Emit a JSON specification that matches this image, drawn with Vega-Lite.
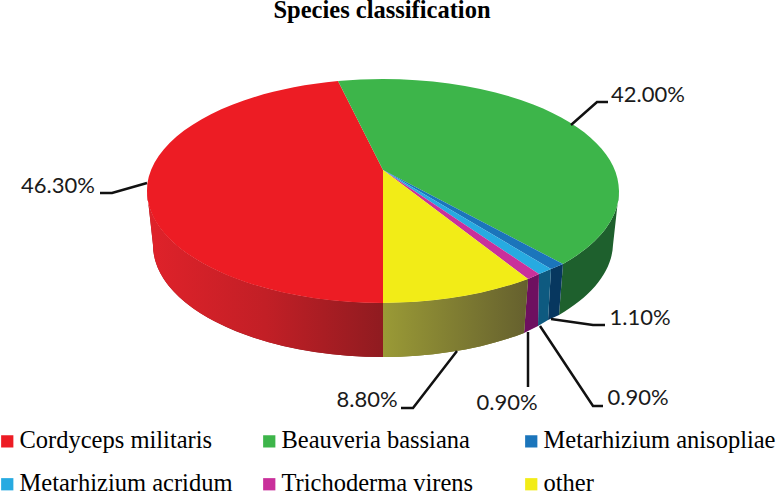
{
"$schema":"https://vega.github.io/schema/vega-lite/v6.json",
"width":776,"height":495,"padding":0,"autosize":"none","background":"white",
"title":{"text":"Species classification","font":"Liberation Serif","fontSize":24.5,"fontWeight":"bold","color":"#000","anchor":"middle","dx":-6,"offset":-23},
"data":{"values":[
{"species":"Cordyceps militaris","share":0.463,"order":1},
{"species":"Beauveria bassiana","share":0.42,"order":2},
{"species":"Metarhizium anisopliae","share":0.011,"order":3},
{"species":"Metarhizium acridum","share":0.009,"order":4},
{"species":"Trichoderma virens","share":0.009,"order":5},
{"species":"other","share":0.088,"order":6}]},
"config":{"view":{"stroke":null}},
"layer":[
{"mark":{"type":"point","filled":true,"opacity":1,"size":4,"strokeWidth":0},
"encoding":{
"shape":{"field":"species","type":"nominal","legend":null,"scale":{"domain":["Cordyceps militaris","Beauveria bassiana","Metarhizium anisopliae","Metarhizium acridum","Trichoderma virens","other"],"range":[
"M-241 -56.5A236 112 0 0 0 -5 55.5L-5 109.5A230 112 0 0 1 -235 -2.5Z",
"M231 -56.5A236 112 0 0 1 175 16.5L171 67.5A230 112 0 0 0 225 -2.5Z",
"M175 16.5L163 21.5L160 72.5L171 67.5Z",
"M163 21.5L151 26.5L150 78.5L160 72.5Z",
"M151 26.5L140 31.5L136 85.5L150 78.5Z",
"M140 31.5A236 112 0 0 1 -5 55.5L-5 109.5A230 112 0 0 0 136 85.5Z"]}},
"fill":{"field":"species","type":"nominal","legend":null,"scale":{"domain":["Cordyceps militaris","Beauveria bassiana","Metarhizium anisopliae","Metarhizium acridum","Trichoderma virens","other"],"range":["#8f1b20","#1e602d","#07375f","#0e5a80","#6e1060","#80802f"]}}
}},
{"transform":[{"filter":"datum.order===1"}],
"mark":{"type":"point","filled":true,"opacity":1,"size":4,"strokeWidth":0,"fill":{"gradient":"linear","x1":0,"y1":0,"x2":1,"y2":0,"stops":[{"offset":0,"color":"#e0222a"},{"offset":0.5,"color":"#c21f26"},{"offset":1,"color":"#8f1b20"}]}},
"encoding":{"shape":{"value":"M-241 -56.5A236 112 0 0 0 -4 55.5L-4 109.5A230 112 0 0 1 -235 -2.5Z"}}},
{"transform":[{"filter":"datum.order===6"}],
"mark":{"type":"point","filled":true,"opacity":1,"size":4,"strokeWidth":0,"fill":{"gradient":"linear","x1":0,"y1":0,"x2":1,"y2":0,"stops":[{"offset":0,"color":"#9a9a36"},{"offset":1,"color":"#65602e"}]}},
"encoding":{"shape":{"value":"M140 31.5A236 112 0 0 1 -5 55.5L-5 109.5A230 112 0 0 0 136 85.5Z"}}},
{"mark":{"type":"point","filled":true,"opacity":1,"size":4,"strokeWidth":0},
"encoding":{
"shape":{"field":"species","type":"nominal","legend":null,"scale":{"domain":["other","Trichoderma virens","Metarhizium acridum","Metarhizium anisopliae","Beauveria bassiana","Cordyceps militaris"],"range":[
"M-5 -77.5L140 31.5A236 112 0 0 1 -5 55.5Z",
"M-5 -77.5L151 26.5A236 112 0 0 1 140 31.5Z",
"M-5 -77.5L163 21.5A236 112 0 0 1 151 26.5Z",
"M-5 -77.5L175 16.5A236 112 0 0 1 163 21.5Z",
"M-5 -77.5L-50 -166.5A236 112 0 0 1 231 -56.5A236 112 0 0 1 175 16.5Z",
"M-5 -77.5L-5 55.5A236 112 0 0 1 -241 -56.5A236 112 0 0 1 -50 -166.5Z"]}},
"fill":{"field":"species","type":"nominal","scale":{"domain":["Cordyceps militaris","Beauveria bassiana","Metarhizium anisopliae","Metarhizium acridum","Trichoderma virens","other"],"range":["#ed1c24","#3db54a","#1b75bb","#27aae1","#c9309b","#f2ec17"]},
"legend":{"title":null,"orient":"none","legendX":-5,"legendY":429,"columns":3,"gridAlign":"all","columnPadding":5,"rowPadding":18,"values":["Cordyceps militaris","Metarhizium acridum","Beauveria bassiana","Trichoderma virens","Metarhizium anisopliae","other"],"symbolType":"square","symbolSize":150,"symbolStrokeWidth":0,"symbolOpacity":1,"labelFont":"Liberation Serif","labelFontSize":24.5,"labelColor":"#000","labelOffset":0,"labelLimit":300,"padding":0}}
}},
{"mark":{"type":"point","filled":false,"opacity":1,"size":4,"strokeWidth":2.5,"stroke":"#111"},
"encoding":{
"shape":{"field":"species","type":"nominal","legend":null,"scale":{"domain":["Cordyceps militaris","Beauveria bassiana","Metarhizium anisopliae","Metarhizium acridum","Trichoderma virens","other"],"range":[
"M-288 -54.5L-276 -54.5L-241 -64.5",
"M183 -122.5L209 -145.5L220 -145.5",
"M163 71.5L205 77.5L217 77.5",
"M152 78.5L205 158.5L215 158.5",
"M140 84.5L140 139.5",
"M69 103.5L25 160.5L13 160.5"]}}
}},
{"mark":{"type":"text","font":"Lato","fontSize":22,"color":"#1a1a1a","align":"center","baseline":"middle"},
"encoding":{
"text":{"field":"share","type":"quantitative","format":".2%"},
"x":{"field":"order","type":"quantitative","axis":null,"scale":{"domain":[1,2,3,4,5,6],"range":[58,648,640,638,507,367],"zero":false,"nice":false}},
"y":{"field":"order","type":"quantitative","axis":null,"scale":{"domain":[1,2,3,4,5,6],"range":[186,95,318,398,403,400],"zero":false,"nice":false}}
}}
],
"resolve":{"scale":{"shape":"independent","fill":"independent","x":"independent","y":"independent"}}
}
